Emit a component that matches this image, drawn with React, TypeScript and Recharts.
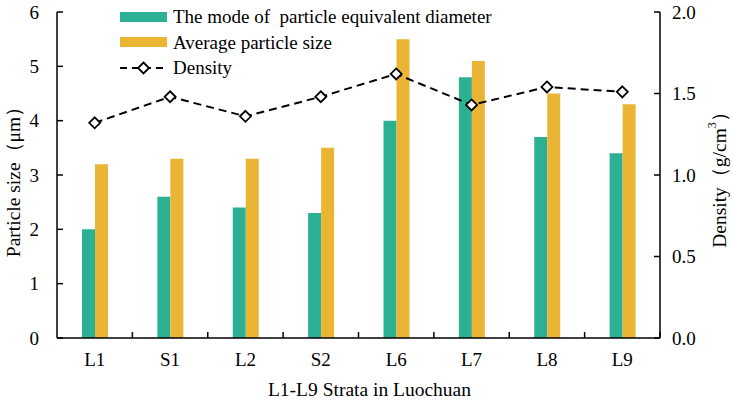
import React from 'react';
import { ComposedChart, Bar, Line, XAxis, YAxis, Legend } from 'recharts';

const categories = ['L1', 'S1', 'L2', 'S2', 'L6', 'L7', 'L8', 'L9'];
const modeDiameter = [2.0, 2.6, 2.4, 2.3, 4.0, 4.8, 3.7, 3.4];
const avgSize = [3.2, 3.3, 3.3, 3.5, 5.5, 5.1, 4.5, 4.3];
const density = [1.32, 1.48, 1.36, 1.48, 1.62, 1.43, 1.54, 1.51];
const leftTicks = [0, 1, 2, 3, 4, 5, 6];
const rightTicks = [0, 0.5, 1.0, 1.5, 2.0];

const data = categories.map((c, i) => ({
  name: c,
  mode: modeDiameter[i],
  avg: avgSize[i],
  density: density[i],
}));

const W = 733;
const H = 400;
const LEFT_W = 57;
const RIGHT_W = 73;
const TOP = 12;
const XH = 62;
const FONT = 'Liberation Serif';
const TEAL = '#2CB093';
const GOLD = '#EAB535';
const TICK_FS = 19;
const TITLE_FS = 19.5;

const plotW = W - LEFT_W - RIGHT_W;
const band = plotW / categories.length;

const XTick = (props: any) => {
  const { x, y, payload } = props;
  const axisY = H - XH;
  return (
    <g>
      <line x1={x + band / 2} x2={x + band / 2} y1={axisY} y2={axisY - 6} stroke="#000" strokeWidth={1.5} />
      <text x={x} y={y} dy={20} textAnchor="middle" fontFamily={FONT} fontSize={TICK_FS} fill="#000">
        {payload.value}
      </text>
    </g>
  );
};

const Diamond = (props: any) => {
  const { cx, cy } = props;
  if (cx == null || cy == null) return null;
  const r = 5.5;
  return (
    <path
      d={`M${cx},${cy - r} L${cx + r},${cy} L${cx},${cy + r} L${cx - r},${cy} Z`}
      fill="#fff"
      stroke="#000"
      strokeWidth={1.8}
    />
  );
};

const LegendContent = () => {
  const row: React.CSSProperties = {
    display: 'flex',
    alignItems: 'center',
    height: 25.5,
    fontFamily: FONT,
    fontSize: 19,
    lineHeight: '25.5px',
    color: '#000',
    whiteSpace: 'pre',
  };
  return (
    <div>
      <div style={row}>
        <div style={{ width: 47, height: 10, background: TEAL, marginRight: 6 }} />
        <span>The mode of  particle equivalent diameter</span>
      </div>
      <div style={row}>
        <div style={{ width: 47, height: 10, background: GOLD, marginRight: 6 }} />
        <span>Average particle size</span>
      </div>
      <div style={row}>
        <svg width={47} height={14} style={{ marginRight: 6 }}>
          <line x1={0} x2={47} y1={7} y2={7} stroke="#000" strokeWidth={2} strokeDasharray="7 5" />
          <path d="M23.5,1.5 L29,7 L23.5,12.5 L18,7 Z" fill="#fff" stroke="#000" strokeWidth={1.8} />
        </svg>
        <span>Density</span>
      </div>
    </div>
  );
};

const LeftLabel = (props: any) => {
  const { viewBox } = props;
  const cx = viewBox.x + 13;
  const cy = viewBox.y + viewBox.height / 2 + 2;
  return (
    <text x={cx} y={cy} transform={`rotate(-90, ${cx}, ${cy})`} textAnchor="middle" dominantBaseline="central" fontFamily={FONT} fontSize={TITLE_FS} fill="#000">
      Particle size（μm）
    </text>
  );
};

const RightLabel = (props: any) => {
  const { viewBox } = props;
  const cx = viewBox.x + 59;
  const cy = viewBox.y + viewBox.height / 2;
  return (
    <text x={cx} y={cy} transform={`rotate(-90, ${cx}, ${cy})`} textAnchor="middle" dominantBaseline="central" fontFamily={FONT} fontSize={TITLE_FS} fill="#000">
      Density（g/cm<tspan baselineShift="super" fontSize={12}>3</tspan>）
    </text>
  );
};

const BottomLabel = (props: any) => {
  const { viewBox } = props;
  const cx = viewBox.x + viewBox.width / 2 + 11;
  const cy = viewBox.y + 58;
  return (
    <text x={cx} y={cy} textAnchor="middle" fontFamily={FONT} fontSize={TITLE_FS} fill="#000">
      L1-L9 Strata in Luochuan
    </text>
  );
};

export default function App() {
  return (
    <div style={{ width: W, height: H, background: '#fff' }}>
      <style>{'html, body { margin: 0; padding: 0; overflow: hidden; }'}</style>
      <ComposedChart
        width={W}
        height={H}
        data={data}
        margin={{ top: TOP, right: 0, bottom: 0, left: 0 }}
        barGap={0}
        barCategoryGap="33%"
      >
        <XAxis
          dataKey="name"
          xAxisId="x"
          height={XH}
          axisLine={{ stroke: '#000', strokeWidth: 1.5 }}
          tickLine={false}
          tick={<XTick />}
          interval={0}
          label={<BottomLabel />}
        />
        <YAxis
          yAxisId="left"
          orientation="left"
          width={LEFT_W}
          domain={[0, 6]}
          ticks={leftTicks}
          allowDataOverflow
          axisLine={{ stroke: '#000', strokeWidth: 1.5 }}
          tickLine={{ stroke: '#000', strokeWidth: 1.5 }}
          tickSize={-6}
          tickMargin={24}
          tick={{ fontFamily: FONT, fontSize: TICK_FS, fill: '#000' }}
          label={<LeftLabel />}
        />
        <YAxis
          yAxisId="right"
          orientation="right"
          width={RIGHT_W}
          domain={[0, 2]}
          ticks={rightTicks}
          allowDataOverflow
          axisLine={{ stroke: '#000', strokeWidth: 1.5 }}
          tickLine={{ stroke: '#000', strokeWidth: 1.5 }}
          tickSize={-6}
          tickMargin={18}
          tickFormatter={(v: number) => v.toFixed(1)}
          tick={{ fontFamily: FONT, fontSize: TICK_FS, fill: '#000' }}
          label={<RightLabel />}
        />
        <Legend
          layout="vertical"
          align="center"
          verticalAlign="middle"
          content={<LegendContent />}
          wrapperStyle={{ top: 4, left: 120, width: 'auto', height: 'auto' }}
        />
        <Bar dataKey="mode" xAxisId="x" yAxisId="left" fill={TEAL} barSize={13} isAnimationActive={false} />
        <Bar dataKey="avg" xAxisId="x" yAxisId="left" fill={GOLD} barSize={13} isAnimationActive={false} />
        <Line
          dataKey="density"
          xAxisId="x"
          yAxisId="right"
          stroke="#000"
          strokeWidth={2}
          strokeDasharray="8 5"
          dot={<Diamond />}
          activeDot={false}
          isAnimationActive={false}
        />
      </ComposedChart>
    </div>
  );
}
